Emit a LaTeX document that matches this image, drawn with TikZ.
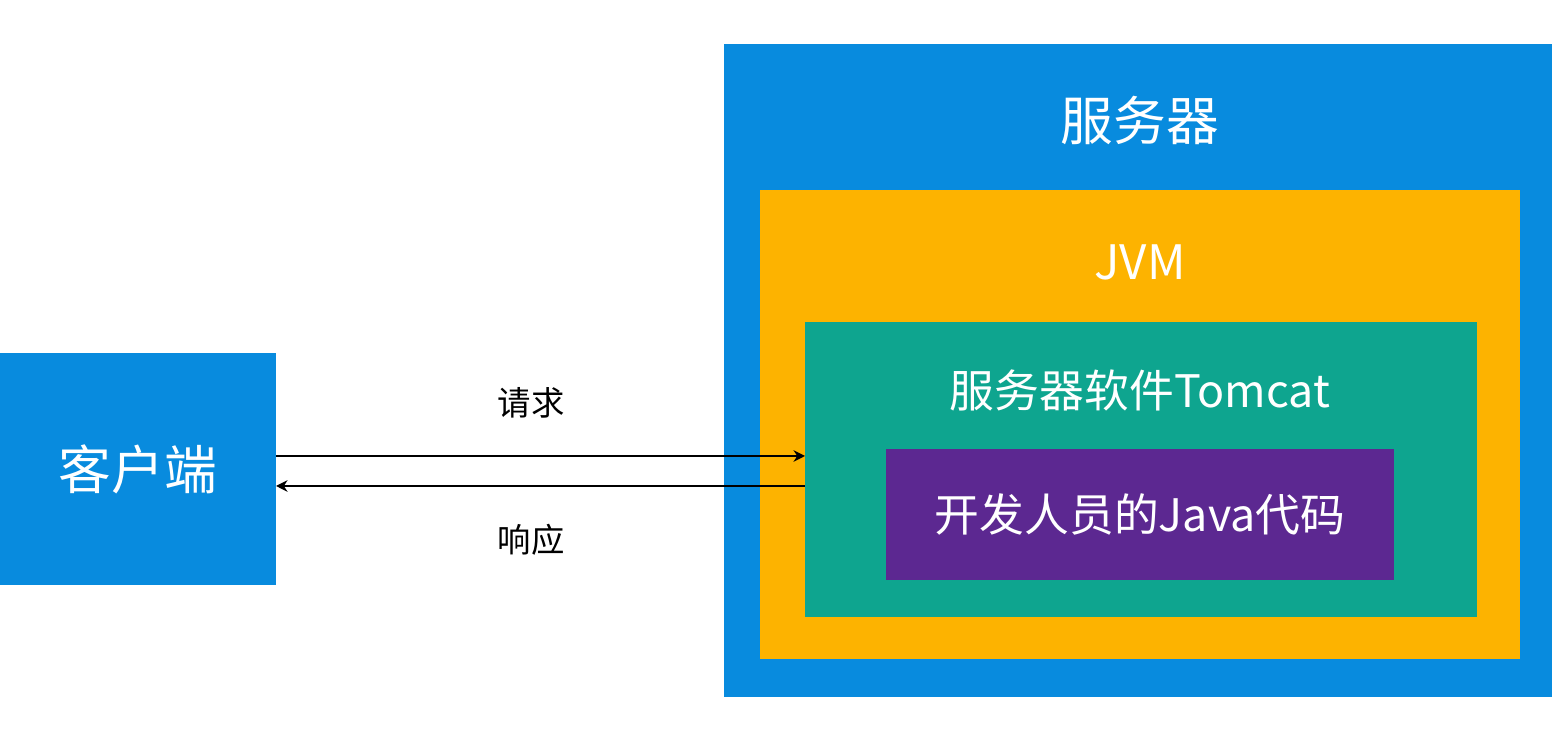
\documentclass[tikz,border=0pt]{standalone}
\usepackage{fontspec}
\setmainfont{Noto Sans CJK SC}
\usepackage{xcolor}
\usetikzlibrary{arrows.meta,positioning,calc}
\definecolor{srvblue}{HTML}{088BDE}
\definecolor{jvmorange}{HTML}{FDB300}
\definecolor{tcteal}{HTML}{0EA58F}
\definecolor{codepurple}{HTML}{5C2891}

\begin{document}
\begin{tikzpicture}[>={Stealth[length=2.3mm,width=2.3mm]},
  box/.style={minimum width=#1, inner sep=0pt, outer sep=0pt},
  lbl/.style={text=white, font=\fontsize{#1}{#1}\selectfont},
  lbl/.default=25.5pt]
\useasboundingbox (0,0) rectangle (31.04,14.76);
% nested boxes of the server
\node[box=16.56cm, fill=srvblue, minimum height=13.06cm] (srv) at (22.76,7.35) {};
\node[box=15.2cm, fill=jvmorange, minimum height=9.38cm] (jvm) at (22.8,6.27) {};
\node[box=13.44cm, fill=tcteal, minimum height=5.9cm] (tc) at (22.82,5.37) {};
\node[box=10.16cm, fill=codepurple, minimum height=2.62cm, lbl] (code) at (22.8,4.47) {开发人员的Java代码};
\node[lbl=30pt] (srvt) at (22.8,12.36) {服务器};
\node[lbl=27pt] (jvmt) at (22.8,9.52) {JVM};
\node[lbl] (tct) at (22.8,6.96) {服务器软件Tomcat};
% client
\node[box=5.52cm, fill=srvblue, minimum height=4.64cm, lbl=30pt] (cli) at (2.76,5.38) {客户端};
% request / response
\coordinate (rq) at ([yshift=2.6mm]cli.east);
\coordinate (rs) at ([yshift=-3.4mm]cli.east);
\draw[->, line width=1.6pt] (rq) -- (rq -| tc.west);
\draw[<-, line width=1.6pt] (rs) -- (rs -| tc.west);
\node[font=\fontsize{19pt}{19pt}\selectfont] (req) at (10.62,6.7) {请求};
\node[font=\fontsize{19pt}{19pt}\selectfont] (resp) at (10.62,3.96) {响应};
\end{tikzpicture}
\end{document}
